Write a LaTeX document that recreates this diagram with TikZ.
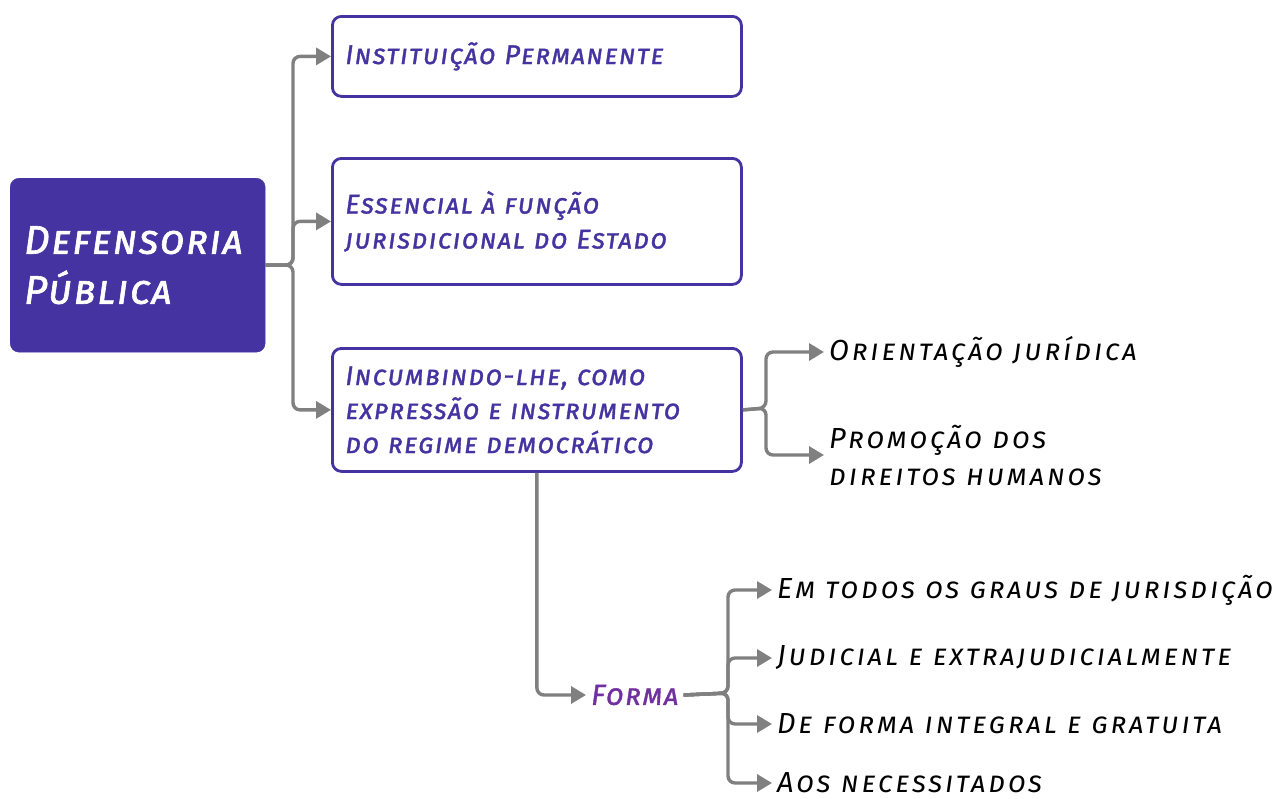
\documentclass[tikz,border=0pt]{standalone}
\usepackage{fontspec}
\setmainfont{Fira Sans}
\newfontfamily\hand[Letters=SmallCaps,LetterSpace=5,FakeBold=1.2]{Fira Sans}
\newfontfamily\mainhand[Letters=SmallCaps,LetterSpace=4,FakeBold=1.6]{Fira Sans}
\newfontfamily\leafhand[Letters=SmallCaps,LetterSpace=9.5]{Fira Sans}
\usetikzlibrary{arrows.meta}
\definecolor{dpurple}{RGB}{68,51,160}
\definecolor{fpurple}{RGB}{112,48,160}
\definecolor{conngray}{RGB}{128,128,128}
\tikzset{
  mainbox/.style={fill=dpurple, draw=dpurple, rounded corners=9pt, text=white, font=\mainhand\itshape\fontsize{40}{50}\selectfont, align=left, inner xsep=14pt, anchor=north west},
  topicbox/.style={draw=dpurple, line width=2.8pt, rounded corners=9pt, fill=white, text=dpurple, font=\hand\itshape\fontsize{27}{35}\selectfont, align=left, inner xsep=13pt, anchor=north west, minimum width=409pt, text width=383pt},
  leaf/.style={text=black, font=\leafhand\itshape\fontsize{29}{37}\selectfont, align=left, anchor=west, inner sep=5pt},
  conn/.style={draw=conngray, line width=3.4pt, rounded corners=7pt, -{Triangle[length=15pt,width=17pt]}},
}
\begin{document}
\begin{tikzpicture}[x=1pt,y=-1pt]
\useasboundingbox (0,0) rectangle (1285,798);
\node[mainbox, minimum width=255pt, minimum height=174pt, text width=227pt] (main) at (10,178) {Defensoria\\Pública};
\node[topicbox, minimum height=80pt] (b1) at (331,15) {Instituição Permanente};
\node[topicbox, minimum height=126pt] (b2) at (331,157) {Essencial à função\\jurisdicional do Estado};
\node[topicbox, minimum height=123pt, font=\hand\itshape\fontsize{27}{34}\selectfont] (b3) at (331,347) {Incumbindo-lhe, como\\expressão e instrumento\\do regime democrático};
\node[leaf] (o1) at (824,352) {Orientação jurídica};
\node[leaf] (o2) at (824,455) {Promoção dos\\direitos humanos};
\node[leaf, text=fpurple, font=\hand\itshape\fontsize{29}{37}\selectfont] (forma) at (586,695) {Forma};
\node[leaf] (l1) at (772,590) {Em todos os graus de jurisdição};
\node[leaf] (l2) at (772,658) {Judicial e extrajudicialmente};
\node[leaf] (l3) at (772,724) {De forma integral e gratuita};
\node[leaf] (l4) at (772,783) {Aos necessitados};
\coordinate (t1) at (293,265);
\coordinate (t2) at (766,408);
\coordinate (t3) at (728,693);
\draw[conn] (main.east) -- (t1) |- (b1.west);
\draw[conn] (main.east) -- (t1) |- (b2.west);
\draw[conn] (main.east) -- (t1) |- (b3.west);
\draw[conn] (b3.east) -- (t2) |- (o1.west);
\draw[conn] (b3.east) -- (t2) |- (o2.west);
\draw[conn] (b3.south) |- (forma.west);
\draw[conn] (forma.east) -- (t3) |- (l1.west);
\draw[conn] (forma.east) -- (t3) |- (l2.west);
\draw[conn] (forma.east) -- (t3) |- (l3.west);
\draw[conn] (forma.east) -- (t3) |- (l4.west);
\end{tikzpicture}
\end{document}
